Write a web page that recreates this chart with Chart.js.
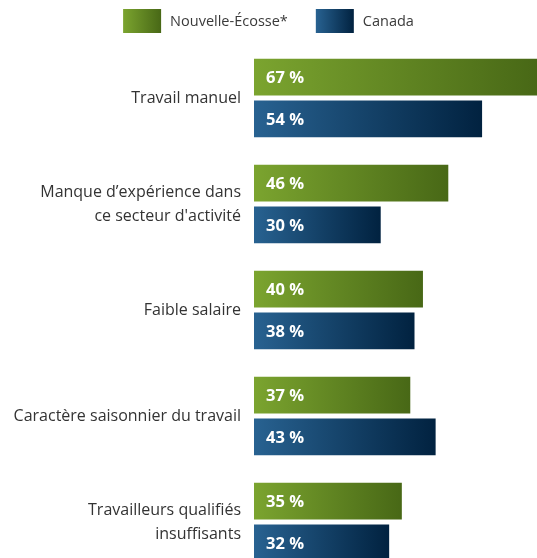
<!DOCTYPE html>
<html>
<head>
<meta charset="utf-8">
<script src="https://cdn.jsdelivr.net/npm/chart.js@4/dist/chart.umd.min.js"></script>
<style>
  html, body { margin: 0; padding: 0; background: #fff; overflow: hidden; }
  #wrap { width: 537px; height: 600px; }
</style>
</head>
<body>
<div id="wrap"><canvas id="chart" width="537" height="600"></canvas></div>
<script>
const categories = [
  'Travail manuel',
  ['Manque d\u2019expérience dans', 'ce secteur d\'activité'],
  'Faible salaire',
  'Caractère saisonnier du travail',
  ['Travailleurs qualifiés', 'insuffisants']
];
const novaScotia = [67, 46, 40, 37, 35];
const canada = [54, 30, 38, 43, 32];
const seriesNames = ['Nouvelle-Écosse*', 'Canada'];

const greenStops = ['#7ba42f', '#486816'];
const blueStops = ['#286291', '#012240'];

function barGradient(stops) {
  return function (c) {
    const chart = c.chart;
    const x = chart.scales && chart.scales.x;
    if (!chart.chartArea || !x || c.raw == null) return stops[0];
    const x0 = x.getPixelForValue(0);
    const x1 = x.getPixelForValue(c.raw);
    const g = chart.ctx.createLinearGradient(x0, 0, x1, 0);
    g.addColorStop(0, stops[0]);
    g.addColorStop(1, stops[1]);
    return g;
  };
}

// legend with gradient boxes, centred over the canvas
const gradientLegend = {
  id: 'gradientLegend',
  afterDraw(chart) {
    const ctx = chart.ctx;
    const boxW = 38, boxH = 24, gap = 9, spacing = 28, cy = 21;
    const stops = [greenStops, blueStops];
    ctx.save();
    ctx.font = '14.5px "Open Sans"';
    const widths = seriesNames.map(n => ctx.measureText(n).width);
    const total = widths.reduce((a, w) => a + boxW + gap + w, 0) + spacing;
    let x = (chart.width - total) / 2;
    seriesNames.forEach((name, i) => {
      const g = ctx.createLinearGradient(x, 0, x + boxW, 0);
      g.addColorStop(0, stops[i][0]);
      g.addColorStop(1, stops[i][1]);
      ctx.fillStyle = g;
      ctx.fillRect(x, cy - boxH / 2, boxW, boxH);
      ctx.fillStyle = '#3a3a3a';
      ctx.textAlign = 'left';
      ctx.textBaseline = 'middle';
      ctx.fillText(name, x + boxW + gap, cy + 1);
      x += boxW + gap + widths[i] + spacing;
    });
    ctx.restore();
  }
};

// "67 %" labels inside the bars
const barLabels = {
  id: 'barLabels',
  afterDatasetsDraw(chart) {
    const ctx = chart.ctx;
    ctx.save();
    ctx.font = 'bold 16.5px "Open Sans"';
    ctx.fillStyle = '#ffffff';
    ctx.textAlign = 'left';
    ctx.textBaseline = 'middle';
    chart.data.datasets.forEach((ds, di) => {
      chart.getDatasetMeta(di).data.forEach((bar, i) => {
        ctx.fillText(ds.data[i] + ' %', bar.base + 12, bar.y + 1);
      });
    });
    ctx.restore();
  }
};

new Chart(document.getElementById('chart'), {
  type: 'bar',
  data: {
    labels: categories,
    datasets: [
      { label: seriesNames[0], data: novaScotia, backgroundColor: barGradient(greenStops) },
      { label: seriesNames[1], data: canada, backgroundColor: barGradient(blueStops) }
    ]
  },
  options: {
    indexAxis: 'y',
    responsive: false,
    animation: false,
    devicePixelRatio: 1,
    layout: { padding: { top: 45, left: 0, right: 0, bottom: 0 } },
    datasets: {
      bar: { categoryPercentage: 0.79, barPercentage: 0.88, borderWidth: 0 }
    },
    scales: {
      x: { display: false, min: 0, max: 67 },
      y: {
        grid: { display: false, drawTicks: false },
        border: { display: false },
        afterFit(scale) { scale.width = 254; },
        ticks: {
          color: '#333333',
          padding: 13,
          font: { family: 'Open Sans', size: 16, lineHeight: 1.5 }
        }
      }
    },
    plugins: {
      tooltip: { enabled: false },
      legend: { display: false }
    }
  },
  plugins: [gradientLegend, barLabels]
});
</script>
</body>
</html>
